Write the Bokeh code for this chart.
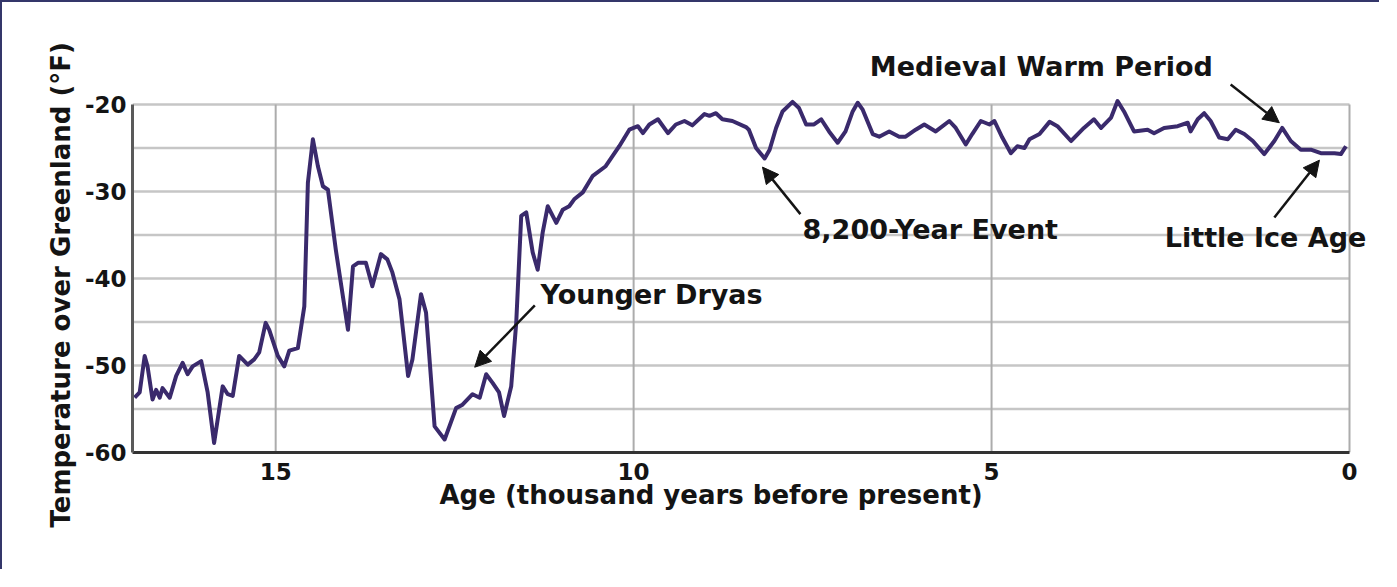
from bokeh.plotting import figure
from bokeh.models import Range1d, FixedTicker, Label, Arrow, NormalHead, Title
from bokeh.embed import file_html
from bokeh.resources import INLINE

# ---- data ----
age_kyr = [16.97, 16.90, 16.83, 16.79, 16.72, 16.67, 16.62, 16.58, 16.48, 16.39,
           16.30, 16.23, 16.16, 16.04, 15.95, 15.86, 15.74, 15.67, 15.60, 15.51,
           15.39, 15.30, 15.23, 15.14, 15.09, 14.97, 14.88, 14.81, 14.69, 14.60,
           14.55, 14.48, 14.41, 14.34, 14.27, 14.16, 13.99, 13.92, 13.85, 13.74,
           13.65, 13.53, 13.44, 13.37, 13.27, 13.15, 13.09, 12.97, 12.90, 12.78,
           12.64, 12.48, 12.39, 12.25, 12.15, 12.06, 11.97, 11.88, 11.81, 11.71,
           11.64, 11.57, 11.50, 11.41, 11.34, 11.27, 11.20, 11.08, 10.99, 10.90,
           10.83, 10.71, 10.57, 10.39, 10.20, 10.06, 9.94, 9.87, 9.78, 9.66,
           9.52, 9.41, 9.29, 9.18, 9.01, 8.94, 8.85, 8.76, 8.62, 8.43,
           8.39, 8.29, 8.17, 8.10, 8.01, 7.92, 7.78, 7.69, 7.59, 7.48,
           7.38, 7.27, 7.15, 7.04, 6.94, 6.87, 6.80, 6.66, 6.57, 6.43,
           6.29, 6.20, 6.06, 5.94, 5.78, 5.59, 5.50, 5.36, 5.27, 5.15,
           5.03, 4.96, 4.85, 4.73, 4.64, 4.54, 4.47, 4.33, 4.19, 4.08,
           3.89, 3.71, 3.57, 3.47, 3.33, 3.24, 3.15, 3.01, 2.82, 2.73,
           2.59, 2.40, 2.26, 2.22, 2.12, 2.03, 1.94, 1.82, 1.70, 1.59,
           1.47, 1.35, 1.19, 1.05, 0.94, 0.82, 0.68, 0.54, 0.40, 0.21,
           0.12, 0.05]

temp_f = [-53.7, -53.1, -48.9, -50.1, -53.9, -52.8, -53.7, -52.6, -53.7, -51.2,
          -49.7, -51.0, -50.1, -49.5, -53.1, -58.9, -52.4, -53.3, -53.5, -48.9,
          -49.9, -49.3, -48.5, -45.1, -45.9, -48.9, -50.1, -48.3, -48.0, -43.2,
          -29.0, -24.0, -27.1, -29.4, -29.8, -36.7, -45.9, -38.6, -38.2, -38.2,
          -40.9, -37.2, -37.8, -39.3, -42.4, -51.2, -49.3, -41.8, -43.9, -57.0,
          -58.5, -54.9, -54.5, -53.3, -53.7, -51.0, -52.0, -53.1, -55.8, -52.4,
          -45.1, -32.8, -32.4, -37.0, -39.0, -34.7, -31.7, -33.6, -32.1, -31.7,
          -30.9, -30.1, -28.2, -27.1, -24.8, -22.9, -22.5, -23.3, -22.3, -21.7,
          -23.3, -22.3, -21.9, -22.4, -21.1, -21.3, -21.0, -21.7, -21.9, -22.6,
          -22.9, -25.0, -26.2, -25.2, -22.7, -20.8, -19.7, -20.4, -22.3, -22.3,
          -21.7, -23.1, -24.4, -23.1, -20.8, -19.8, -20.6, -23.4, -23.7, -23.1,
          -23.7, -23.7, -22.9, -22.3, -23.1, -21.9, -22.7, -24.6, -23.4, -21.9,
          -22.3, -21.9, -23.8, -25.6, -24.8, -25.0, -24.0, -23.4, -22.0, -22.5,
          -24.2, -22.7, -21.7, -22.7, -21.5, -19.6, -20.8, -23.1, -22.9, -23.3,
          -22.7, -22.5, -22.1, -23.1, -21.7, -21.0, -21.9, -23.8, -24.0, -22.9,
          -23.4, -24.2, -25.7, -24.2, -22.7, -24.2, -25.2, -25.2, -25.6, -25.6,
          -25.7, -24.8]

# axis extents and ticks
x_start, x_end = 17, 0
y_bottom, y_top = -60, -20
x_ticks = [15, 10, 5, 0]
x_tick_labels = ["15", "10", "5", "0"]
y_ticks = [-60, -50, -40, -30, -20]
y_tick_labels = ["-60", "-50", "-40", "-30", "-20"]
y_minor = [-55, -45, -35, -25]
x_title = "Age (thousand years before present)"
y_title = "Temperature over Greenland (°F)"

# annotations: text, text anchor (left, middle), arrow tail, arrow tip
ann_text = ["Younger Dryas", "8,200-Year Event", "Medieval Warm Period", "Little Ice Age"]
ann_x = [11.30, 7.64, 6.70, 2.58]
ann_y = [-41.8, -34.4, -15.6, -35.3]
arr_x0 = [11.38, 7.67, 1.66, 1.05]
arr_y0 = [-43.1, -32.6, -17.7, -33.0]
arr_x1 = [12.22, 8.20, 0.98, 0.42]
arr_y1 = [-50.2, -27.2, -22.1, -26.4]

FONT = "DejaVu Sans"
INK = "#141414"

# the plotting frame is extended beyond the axis extents (up and right) so that the
# annotation texts that sit outside the axes box are not clipped
p = figure(width=1379, height=569, output_backend="svg", toolbar_location=None,
           x_range=Range1d(x_start, -0.447), y_range=Range1d(y_bottom, -8.28),
           min_border_left=130, min_border_right=0, min_border_top=0, min_border_bottom=119)
p.title.visible = False
p.styles = {"border-left": "2px solid #34366a", "border-top": "2px solid #34366a"}
p.background_fill_color = "white"
p.border_fill_color = "white"
p.outline_line_color = None
p.grid.visible = False

# grid lines limited to the axes box
h_vals = sorted(y_ticks + y_minor)
p.segment(x0=[x_start] * len(h_vals), y0=h_vals, x1=[x_end] * len(h_vals), y1=h_vals,
          line_color="#c6c6c6", line_width=2.5)
p.segment(x0=x_ticks, y0=[y_bottom] * len(x_ticks), x1=x_ticks, y1=[y_top] * len(x_ticks),
          line_color="#acacac", line_width=2)

p.line(age_kyr, temp_f, line_color="#3a2a6c", line_width=4, line_join="round")

# axes
p.xaxis.bounds = (x_end, x_start)
p.yaxis.bounds = (y_bottom, y_top)
p.xaxis.ticker = FixedTicker(ticks=x_ticks)
p.xaxis.major_label_overrides = dict(zip(x_ticks, x_tick_labels))
p.yaxis.ticker = FixedTicker(ticks=y_ticks, minor_ticks=y_minor)
p.yaxis.major_label_overrides = dict(zip(y_ticks, y_tick_labels))
for ax in (p.xaxis[0], p.yaxis[0]):
    ax.major_tick_line_color = None
    ax.minor_tick_line_color = None
    ax.major_tick_out = 0
    ax.minor_tick_out = 0
    ax.major_tick_in = 0
    ax.minor_tick_in = 0
    ax.major_label_text_font = FONT
    ax.major_label_text_font_style = "bold"
    ax.major_label_text_font_size = "23px"
    ax.major_label_text_color = INK
    ax.axis_line_width = 3
p.xaxis.axis_line_color = "#333333"
p.yaxis.axis_line_color = "#5a5a5a"
p.xaxis.major_label_standoff = 10
p.yaxis.major_label_standoff = 6

# axis titles as side-panel titles (so they can be positioned along the axes box)
p.add_layout(Title(text=x_title, align="left", offset=307, vertical_align="top",
                   standoff=-6, text_font=FONT, text_font_style="bold",
                   text_font_size="26px", text_color=INK), "below")
p.add_layout(Title(text=y_title, align="left", offset=-75, vertical_align="bottom",
                   standoff=12, text_font=FONT, text_font_style="bold",
                   text_font_size="26px", text_color=INK), "left")

# annotations
for t, tx, ty, x0, y0, x1, y1 in zip(ann_text, ann_x, ann_y, arr_x0, arr_y0, arr_x1, arr_y1):
    p.add_layout(Arrow(x_start=x0, y_start=y0, x_end=x1, y_end=y1,
                       line_color=INK, line_width=2.5,
                       end=NormalHead(size=16, fill_color=INK, line_color=INK)))
    p.add_layout(Label(x=tx, y=ty, text=t, text_font=FONT, text_font_style="bold",
                       text_font_size="27px", text_color=INK,
                       text_align="left", text_baseline="middle"))

open("out.html", "w").write(file_html(p, INLINE))
